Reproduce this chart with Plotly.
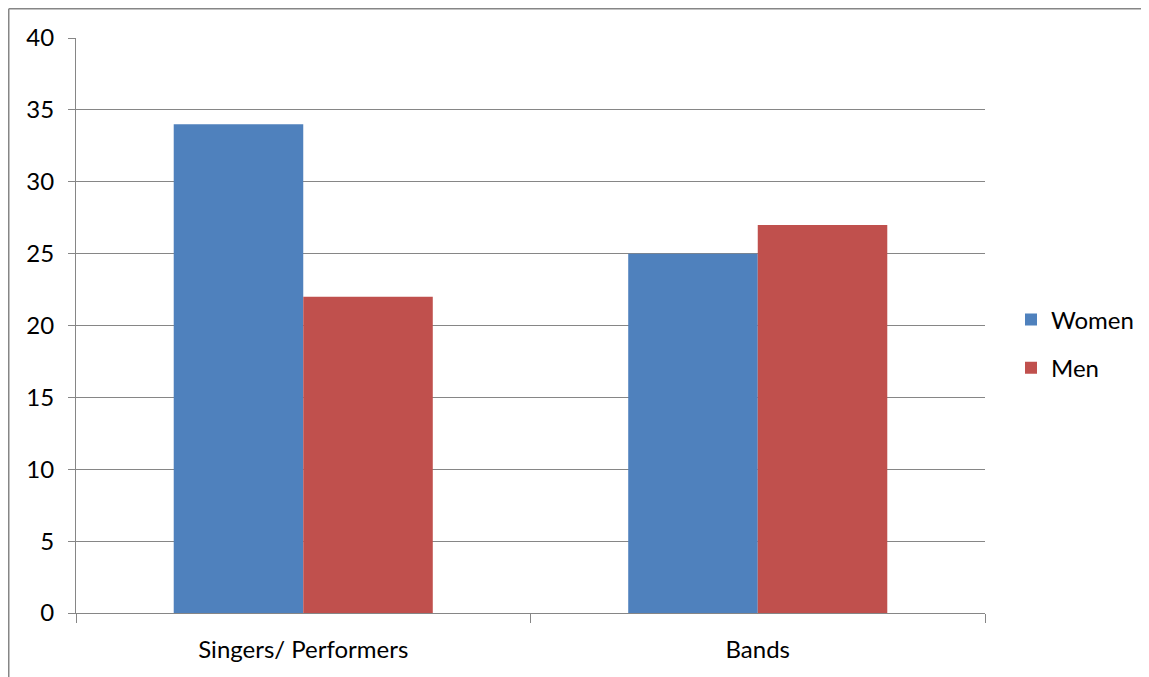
import plotly.graph_objects as go

categories = ["Singers/ Performers", "Bands"]
women = [34, 25]
men = [22, 27]
y_ticks = [0, 5, 10, 15, 20, 25, 30, 35, 40]

# page body has an 8px margin; work in figure coordinates
OFF = 8
W, H = 1149 - OFF, 677 - OFF
L, T = 76 - OFF, 38 - OFF
pw, ph = 909, 575
R, B = W - L - pw, H - T - ph

xpos = list(range(len(categories)))
grid = "#868686"
font = dict(family="Lato, Open Sans, sans-serif", size=24, color="#000000")

fig = go.Figure()
fig.add_trace(go.Bar(x=xpos, y=women, name="Women", marker_color="#4F81BD",
                     marker_line_width=0, legendgroup="w"))
fig.add_trace(go.Bar(x=xpos, y=men, name="Men", marker_color="#C0504D",
                     marker_line_width=0, legendgroup="m"))

fig.update_layout(
    width=W, height=H,
    margin=dict(l=L, r=R, t=T, b=B, autoexpand=False),
    paper_bgcolor="white", plot_bgcolor="white",
    font=font,
    barmode="group", bargap=0.43, bargroupgap=0,
    showlegend=True,
    legend=dict(x=(1011 - 76) / pw, xanchor="left", y=(613 - 344) / ph, yanchor="middle",
                traceorder="grouped", tracegroupgap=14, font=font,
                bgcolor="rgba(0,0,0,0)"),
    xaxis=dict(range=[-0.5, len(categories) - 0.5], tickvals=xpos, ticktext=categories,
               ticks="", showgrid=False, zeroline=False, showline=True,
               linecolor=grid, linewidth=1, ticklabelstandoff=15,
               minor=dict(tickvals=[i - 0.5 for i in range(len(categories) + 1)],
                          ticks="outside", ticklen=9, tickcolor=grid, tickwidth=1,
                          showgrid=False),
               fixedrange=True),
    yaxis=dict(range=[0, 40], tickvals=y_ticks, ticks="outside", ticklen=7,
               tickcolor=grid, tickwidth=1, showgrid=True, gridcolor=grid, gridwidth=1,
               zeroline=False, showline=True, linecolor=grid, linewidth=1,
               ticklabelstandoff=9, fixedrange=True),
)

# outer chart frame (top and left edges visible)
fx0 = (0.75 - L) / pw
fy1 = 1 + (T - 0.75) / ph
fig.add_shape(type="line", xref="paper", yref="paper", x0=fx0, x1=2, y0=fy1, y1=fy1,
              line=dict(color=grid, width=1.5))
fig.add_shape(type="line", xref="paper", yref="paper", x0=fx0, x1=fx0, y0=fy1, y1=-1,
              line=dict(color=grid, width=1.5))

fig.write_html("out.html")
